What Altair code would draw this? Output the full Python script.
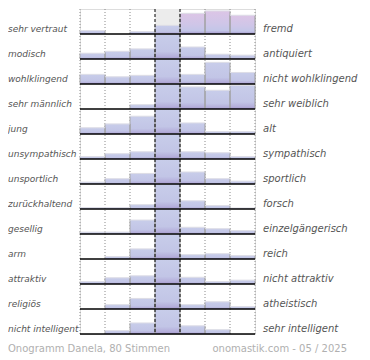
import altair as alt
import pandas as pd

left_labels = ["sehr vertraut", "modisch", "wohlklingend", "sehr männlich", "\u00a0jung",
               "unsympathisch", "unsportlich", "zurückhaltend", "gesellig", "arm",
               "attraktiv", "religiös", "nicht intelligent"]
right_labels = ["fremd", "antiquiert", "nicht wohlklingend", "sehr weiblich", "alt",
                "sympathisch", "sportlich", "forsch", "einzelgängerisch", "reich",
                "nicht attraktiv", "atheistisch", "sehr intelligent"]

# bar heights per row, 7 steps (26 = full row height)
r_vertraut = [3.5, 0, 2.5, 9, 21.5, 24, 19.5]
r_modisch = [6, 8, 10.5, 26, 12.5, 5, 4]
r_wohlklingend = [10, 7.5, 9, 26, 10, 22.5, 12]
r_maennlich = [0, 0, 4.5, 26, 23, 19.5, 24.5]
r_jung = [6.5, 10.5, 18.5, 26, 11.5, 2.5, 2.5]
r_sympathisch = [2.5, 5.5, 7.5, 26, 7.5, 6.5, 2.5]
r_sportlich = [2, 5.5, 11, 26, 12.5, 5.5, 3]
r_forsch = [1.5, 1.5, 4.5, 26, 8.5, 3.5, 1]
r_gesellig = [2, 2, 14.5, 26, 7, 5.5, 3.5]
r_reich = [0, 2.5, 10.5, 26, 4.5, 5.5, 3.5]
r_attraktiv = [2.5, 6.5, 8.5, 26, 7, 2.5, 4]
r_religioes = [0, 4.5, 11, 26, 4.5, 7.5, 2.5]
r_intelligent = [0, 3.5, 11.5, 26, 8.5, 4.5, 0]

rows = [r_vertraut, r_modisch, r_wohlklingend, r_maennlich, r_jung, r_sympathisch,
        r_sportlich, r_forsch, r_gesellig, r_reich, r_attraktiv, r_religioes, r_intelligent]

footer_left = "Onogramm Danela, 80 Stimmen"
footer_right = "onomastik.com - 05 / 2025"

NROWS = len(rows)
recs = []
for i, vals in enumerate(rows):
    for c, v in enumerate(vals):
        if v > 0:
            recs.append({"row": i, "col": c, "col2": c + 1, "base": i + 1,
                         "top": i + 1 - min(v, 26) / 26.0,
                         "pink": 1 if (i == 0 and v > 15) else 0})
bars = pd.DataFrame(recs)

lab = pd.DataFrame({"row": list(range(NROWS)), "left": left_labels, "right": right_labels})
lab["ly"] = lab["row"] + 0.8
lab["base"] = lab["row"] + 1
lab["x0"] = 0
lab["x7"] = 7

xs = alt.Scale(domain=[0, 7], nice=False, zero=False)
ys = alt.Scale(domain=[0, NROWS], nice=False, zero=False, reverse=True)

def X(f):
    return alt.X(f, type="quantitative", scale=xs, axis=None)

def Y(f):
    return alt.Y(f, type="quantitative", scale=ys, axis=None)

grid = pd.DataFrame({"g": [0, 1, 2, 3, 4, 5, 6, 7],
                     "mid": [0, 0, 0, 1, 1, 0, 0, 0]})
grid["y0"] = 0
grid["y1"] = NROWS

bgdf = pd.DataFrame({"a": [3], "b": [4], "y0": [0], "y1": [NROWS]})
bg = alt.Chart(bgdf).mark_rect(fill="#ececec").encode(
    x=X("a"), x2="b", y=Y("y0"), y2="y1")

dotted = alt.Chart(grid).transform_filter("datum.mid == 0").mark_rule(
    color="#8a8a8a", strokeDash=[1, 2], strokeWidth=1).encode(
    x=X("g"), y=Y("y0"), y2="y1")

blue_grad = alt.Gradient(gradient="linear", x1=0, x2=0, y1=0, y2=1, stops=[
    alt.GradientStop(color="#c8cdea", offset=0),
    alt.GradientStop(color="#c2c5e6", offset=0.7),
    alt.GradientStop(color="#b3acd9", offset=0.92),
    alt.GradientStop(color="#9f90c8", offset=1)])
pink_grad = alt.Gradient(gradient="linear", x1=0, x2=0, y1=0, y2=1, stops=[
    alt.GradientStop(color="#dcc5e6", offset=0),
    alt.GradientStop(color="#cfc6e8", offset=0.55),
    alt.GradientStop(color="#c3c6e8", offset=0.85),
    alt.GradientStop(color="#a597cc", offset=1)])

bars_blue = alt.Chart(bars).transform_filter("datum.pink == 0").mark_rect(fill=blue_grad).encode(
    x=X("col"), x2="col2", y=Y("top"), y2="base")
bars_pink = alt.Chart(bars).transform_filter("datum.pink == 1").mark_rect(fill=pink_grad).encode(
    x=X("col"), x2="col2", y=Y("top"), y2="base")

edge_r = alt.Chart(bars).mark_rule(color="#9c9c9c", strokeWidth=1).encode(
    x=X("col2"), y=Y("top"), y2="base")
edge_l = alt.Chart(bars).mark_rule(color="#a8a8a8", strokeWidth=1).encode(
    x=X("col"), y=Y("top"), y2="base")
edge_t = alt.Chart(bars).mark_rule(color="#dddde6", strokeWidth=1).encode(
    x=X("col"), x2="col2", y=Y("top"))

baselines = alt.Chart(lab).mark_rule(color="#000000", strokeWidth=1.6).encode(
    x=X("x0"), x2="x7", y=Y("base"))

dashed = alt.Chart(grid).transform_filter("datum.mid == 1").mark_rule(
    color="#000000", strokeDash=[3, 2], strokeWidth=1).encode(
    x=X("g"), y=Y("y0"), y2="y1")

ltext = alt.Chart(lab).mark_text(align="left", baseline="middle", font="DejaVu Sans",
                                  fontStyle="italic", fontSize=9, color="#555555").encode(
    x=alt.value(-72), y=Y("ly"), text="left:N")
rtext = alt.Chart(lab).mark_text(align="left", baseline="middle", font="DejaVu Sans",
                                  fontStyle="italic", fontSize=10, color="#555555").encode(
    x=alt.value(183), y=Y("ly"), text="right:N")

foot = pd.DataFrame({"t": [footer_left]})
foot2 = pd.DataFrame({"t": [footer_right]})
ftext1 = alt.Chart(foot).mark_text(align="left", baseline="middle", font="DejaVu Sans",
                                   fontSize=10, color="#b0b0b0").encode(
    x=alt.value(-72), y=alt.value(NROWS * 25 + 15), text="t:N")
ftext2 = alt.Chart(foot2).mark_text(align="right", baseline="middle", font="DejaVu Sans",
                                    fontSize=10, color="#b0b0b0").encode(
    x=alt.value(267), y=alt.value(NROWS * 25 + 15), text="t:N")

chart = alt.layer(bg, dotted, bars_blue, bars_pink, edge_l, edge_r, edge_t, baselines,
                  dashed, ltext, rtext, ftext1, ftext2).properties(
    width=175, height=NROWS * 25, padding=0
).configure_view(stroke=None).configure(background="#ffffff")

chart.save("out.html", embed_options={"renderer": "svg", "actions": False})
